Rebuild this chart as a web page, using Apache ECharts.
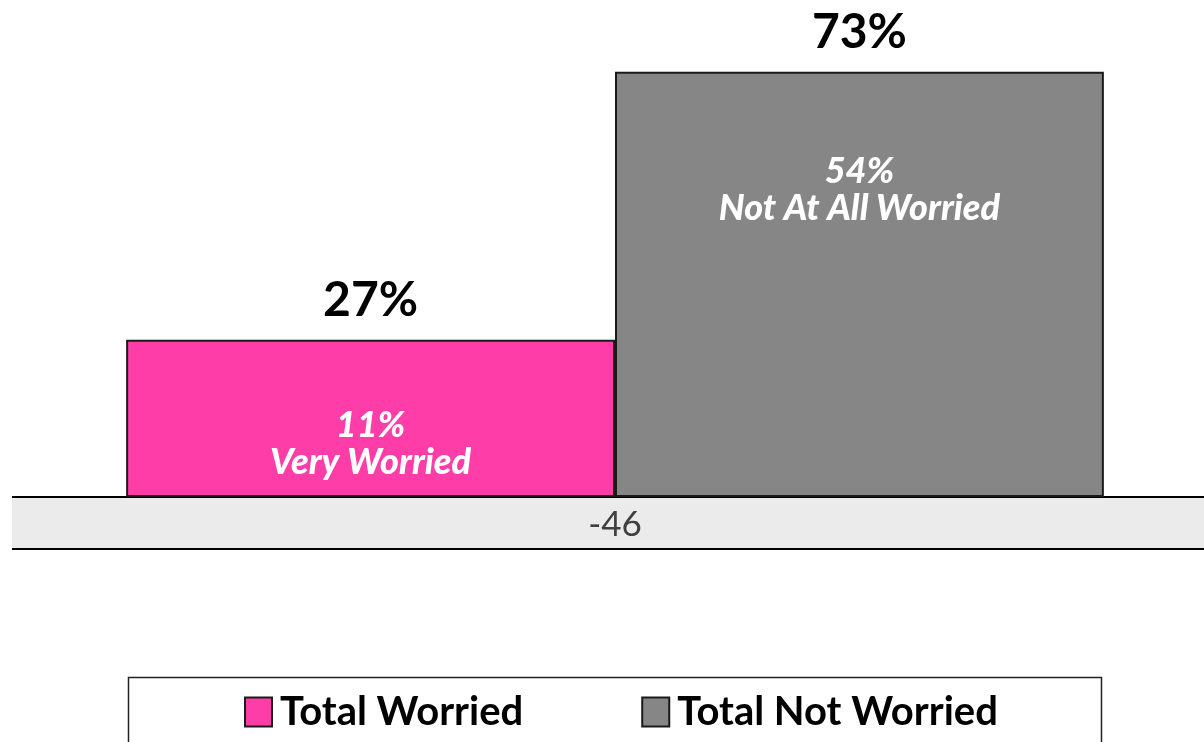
<!DOCTYPE html>
<html lang="en">
<head>
<meta charset="UTF-8">
<title>Worried vs Not Worried</title>
<script src="https://cdn.jsdelivr.net/npm/echarts@6/dist/echarts.min.js"></script>
<style>
  html, body { margin: 0; padding: 0; background: #fff; }
  #chart { width: 1204px; height: 742px; }
</style>
</head>
<body>
<div id="chart"></div>
<script>
// data
const categories = ['-46'];
const seriesNames = ['Total Worried', 'Total Not Worried'];
const totals = [27, 73];
const innerValues = [11, 54];
const innerNames = ['Very Worried', 'Not At All Worried'];
const colors = ['#ff3da8', '#868686'];

const font = 'Lato, "Liberation Sans", sans-serif';

const chart = echarts.init(document.getElementById('chart'));

// main bars, one series per group
const mainSeries = seriesNames.map((name, i) => ({
  name: name,
  type: 'bar',
  xAxisIndex: 0,
  barGap: 0,
  barCategoryGap: '17%',
  data: [totals[i]],
  itemStyle: { color: colors[i], borderColor: '#1a1a1a', borderWidth: 2 },
  label: {
    show: true,
    position: 'top',
    distance: 15,
    formatter: '{c}%',
    fontFamily: font,
    fontWeight: 'bold',
    fontSize: 48,
    color: '#000'
  },
  emphasis: { disabled: true }
}));

// transparent copies on a hidden axis that carry the inner labels
const innerDistance = [67, 81];
const innerSeries = seriesNames.map((name, i) => ({
  name: name + ' inner',
  type: 'bar',
  xAxisIndex: 1,
  barGap: 0,
  barCategoryGap: '17%',
  data: [totals[i]],
  itemStyle: { color: 'rgba(0,0,0,0)' },
  label: {
    show: true,
    position: 'insideTop',
    distance: innerDistance[i],
    formatter: innerValues[i] + '%\n' + innerNames[i],
    fontFamily: font,
    fontWeight: 900,
    fontStyle: 'italic',
    fontSize: 36,
    lineHeight: 37,
    color: '#fff'
  },
  silent: true,
  emphasis: { disabled: true }
}));

const option = {
  animation: false,
  grid: { left: 26, right: 0, top: 31, bottom: 245 },
  xAxis: [
    {
      type: 'category',
      data: categories,
      axisLine: { lineStyle: { color: '#000', width: 2 } },
      axisTick: { show: false },
      axisLabel: { fontFamily: font, fontSize: 35, color: '#404040', margin: 10 }
    },
    {
      type: 'category',
      data: categories,
      show: false
    }
  ],
  yAxis: { type: 'value', min: 0, max: 80, show: false },
  legend: {
    data: seriesNames,
    left: 239,
    top: 687,
    itemWidth: 27,
    itemHeight: 29,
    itemGap: 118,
    icon: 'rect',
    itemStyle: { borderColor: '#1a1a1a', borderWidth: 2 },
    textStyle: { fontFamily: font, fontWeight: 'bold', fontSize: 40, color: '#000', padding: [0, 0, 0, 3] },
    selectedMode: false
  },
  graphic: [
    // grey band behind the category label
    {
      type: 'rect',
      z: -1,
      shape: { x: 12, y: 497, width: 1200, height: 52 },
      style: { fill: '#ebebeb' }
    },
    {
      type: 'line',
      shape: { x1: 12, y1: 549, x2: 1204, y2: 549 },
      style: { stroke: '#000', lineWidth: 2 }
    },
    {
      type: 'line',
      shape: { x1: 12, y1: 497, x2: 26, y2: 497 },
      style: { stroke: '#000', lineWidth: 2 }
    },
    // legend frame
    {
      type: 'rect',
      z: -1,
      shape: { x: 128.5, y: 677.5, width: 973, height: 80 },
      style: { fill: '#fff', stroke: '#222', lineWidth: 1.5 }
    }
  ],
  series: mainSeries.concat(innerSeries)
};

chart.setOption(option);
</script>
</body>
</html>
